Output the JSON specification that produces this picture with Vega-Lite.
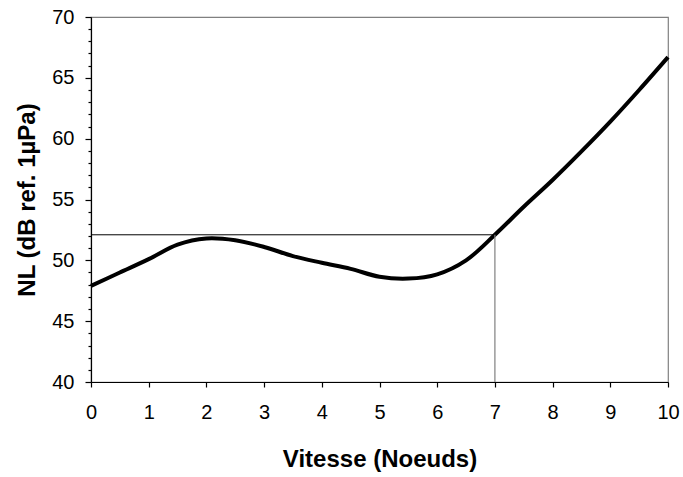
{
  "$schema": "https://vega.github.io/schema/vega-lite/v6.json",
  "width": 577,
  "height": 365,
  "autosize": {"type": "none"},
  "padding": {"left": 91, "top": 17, "right": 15, "bottom": 95},
  "background": "white",
  "config": {
    "font": "Liberation Sans",
    "view": {"stroke": "#808080", "strokeWidth": 1.2},
    "axis": {
      "grid": false,
      "domainColor": "black",
      "domainWidth": 1.2,
      "tickColor": "black",
      "tickWidth": 1.2,
      "labelFont": "Liberation Sans",
      "labelFontSize": 20,
      "labelColor": "black",
      "labelFlush": false,
      "titleFont": "Liberation Sans",
      "titleFontSize": 24,
      "titleFontWeight": "bold",
      "titleColor": "black"
    }
  },
  "datasets": {
    "curve": [
      {"vitesse": 0, "nl": 47.9},
      {"vitesse": 0.5, "nl": 49.0},
      {"vitesse": 1, "nl": 50.1},
      {"vitesse": 1.5, "nl": 51.3},
      {"vitesse": 2, "nl": 51.8},
      {"vitesse": 2.5, "nl": 51.65},
      {"vitesse": 3, "nl": 51.1},
      {"vitesse": 3.5, "nl": 50.35},
      {"vitesse": 4, "nl": 49.8},
      {"vitesse": 4.5, "nl": 49.3},
      {"vitesse": 5, "nl": 48.65},
      {"vitesse": 5.5, "nl": 48.5},
      {"vitesse": 6, "nl": 48.85},
      {"vitesse": 6.5, "nl": 50.0},
      {"vitesse": 7, "nl": 52.1},
      {"vitesse": 7.5, "nl": 54.4},
      {"vitesse": 8, "nl": 56.6},
      {"vitesse": 8.5, "nl": 58.95},
      {"vitesse": 9, "nl": 61.4},
      {"vitesse": 9.5, "nl": 64.0},
      {"vitesse": 10, "nl": 66.7}
    ],
    "hline": [{"x0": 0, "x1": 7, "nl": 52.1}],
    "vline": [{"vitesse": 7, "y0": 40, "y1": 52.1}]
  },
  "layer": [
    {
      "data": {"name": "curve"},
      "mark": {"type": "line", "color": "black", "strokeWidth": 4, "interpolate": "catmull-rom"},
      "encoding": {
        "x": {
          "field": "vitesse",
          "type": "quantitative",
          "title": "Vitesse (Noeuds)",
          "scale": {"domain": [0, 10], "nice": false},
          "axis": {
            "values": [0, 1, 2, 3, 4, 5, 6, 7, 8, 9, 10],
            "tickCount": 11,
            "format": "d",
            "labelOverlap": false,
            "tickSize": 5,
            "labelPadding": 15,
            "titlePadding": 25
          }
        },
        "y": {
          "field": "nl",
          "type": "quantitative",
          "title": "NL (dB ref. 1µPa)",
          "scale": {"domain": [40, 70], "nice": false},
          "axis": {
            "values": [40, 41, 42, 43, 44, 45, 46, 47, 48, 49, 50, 51, 52, 53, 54, 55, 56, 57, 58, 59, 60, 61, 62, 63, 64, 65, 66, 67, 68, 69, 70],
            "tickCount": 31,
            "format": "d",
            "labelOverlap": false,
            "labelExpr": "datum.value % 5 === 0 ? datum.label : ''",
            "tickSize": {"condition": {"test": "datum.value % 5 === 0", "value": 6}, "value": 3},
            "labelPadding": 11,
            "titlePadding": 12
          }
        }
      }
    },
    {
      "data": {"name": "hline"},
      "mark": {"type": "rule", "color": "black", "strokeWidth": 1},
      "encoding": {
        "x": {"field": "x0", "type": "quantitative"},
        "x2": {"field": "x1"},
        "y": {"field": "nl", "type": "quantitative"}
      }
    },
    {
      "data": {"name": "vline"},
      "mark": {"type": "rule", "color": "#808080", "strokeWidth": 1.2},
      "encoding": {
        "x": {"field": "vitesse", "type": "quantitative"},
        "y": {"field": "y0", "type": "quantitative"},
        "y2": {"field": "y1"}
      }
    }
  ]
}
